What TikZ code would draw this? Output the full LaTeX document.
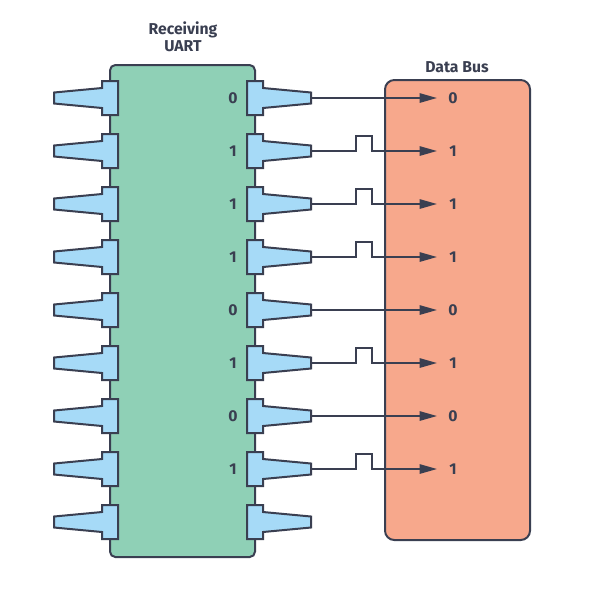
\documentclass[tikz,border=0pt]{standalone}
\usepackage{fontspec}
\setmainfont{Fira Sans}
\usepackage{xcolor}
\usetikzlibrary{calc,arrows.meta}

\definecolor{uartgreen}{HTML}{8FD0B6}
\definecolor{pinblue}{HTML}{A6DAF7}
\definecolor{busred}{HTML}{F7A88C}
\definecolor{outline}{HTML}{3A3F51}

\tikzset{
  outl/.style={draw=outline, line width=1.5pt},
  pinshape/.style={outl, fill=pinblue, line join=miter},
  lbl/.style={font=\bfseries\fontsize{11.8}{12.75}\selectfont, text=outline},
  wire/.style={draw=outline, line width=1.3pt, -{Triangle[length=13pt,width=7pt]}},
}

\begin{document}
\begin{tikzpicture}[x=0.75pt,y=-0.75pt]
  % Canvas, same size as the reference
  \useasboundingbox (0,0) rectangle (591,590);

  % Receiving UART body
  \draw[outl,fill=uartgreen,rounded corners=4pt] (110,65) rectangle (255,557);
  \node[lbl,align=center] (uart) at (183,37) {Receiving\\UART};

  % Data bus body
  \draw[outl,fill=busred,rounded corners=7pt] (385,80) rectangle (530,540);
  \node[lbl] (bus) at (457,67) {Data Bus};

  % Pins on both sides of the UART
  \foreach \i in {1,...,9}{
    \pgfmathsetmacro\y{98+53*(\i-1)}
    \begin{scope}[shift={(0,\y)}]
      \draw[pinshape] (118,-17) -- (102,-17) -- (102,-10) -- (54,-5.5)
        -- (54,5.5) -- (102,10) -- (102,17) -- (118,17) -- cycle;
      \draw[pinshape] (247,-17) -- (263,-17) -- (263,-10) -- (311,-5.5)
        -- (311,5.5) -- (263,10) -- (263,17) -- (247,17) -- cycle;
      \coordinate (tip\i) at (311,0);
    \end{scope}
  }

  % Bits going out to the data bus
  \foreach \i/\b in {1/0,2/1,3/1,4/1,5/0,6/1,7/0,8/1}{
    \pgfmathsetmacro\y{98+53*(\i-1)}
    \coordinate (head\i) at (437,\y);
    \node[lbl] (inbit\i) at (233,\y) {\b};
    \node[lbl] (outbit\i) at (453,\y) {\b};
    \ifnum\b=1
      \draw[wire] (tip\i) -- ++(45,0) -- ++(0,-15) -- ++(16,0) -- ++(0,15) -- (head\i);
    \else
      \draw[wire] (tip\i) -- (head\i);
    \fi
  }
\end{tikzpicture}
\end{document}
